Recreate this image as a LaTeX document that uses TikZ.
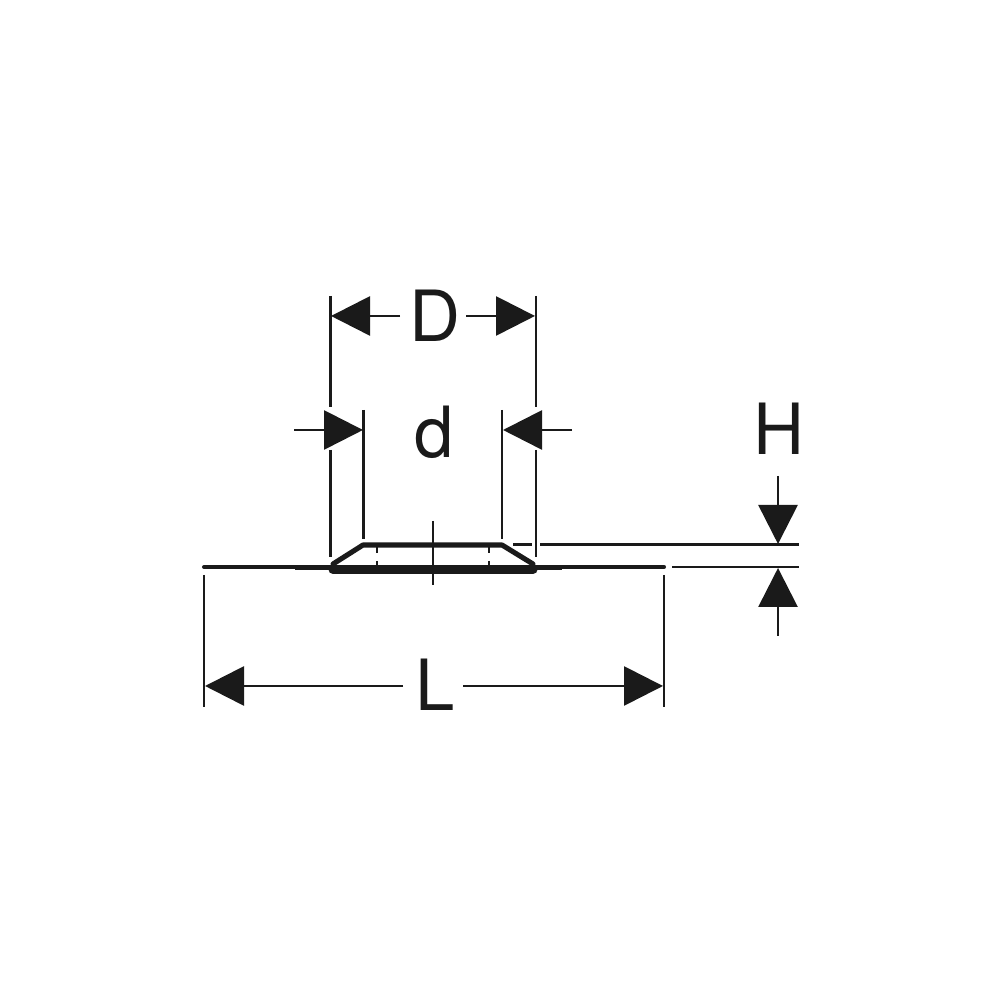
\documentclass[tikz,border=0pt]{standalone}
\usepackage{fontspec}
\setmainfont{TeX Gyre Heros}
\usepackage{tikz}
\usetikzlibrary{arrows.meta}
\definecolor{inkblack}{HTML}{1A1A1A}
\tikzset{
  dimline/.style={line width=0.78pt, color=inkblack, -{Triangle[length=3.9mm,width=3.9mm]}},
  extline/.style={line width=0.78pt, color=inkblack},
  partline/.style={color=inkblack, line cap=round, line join=round},
  dimlabel/.style={anchor=base, inner sep=0pt, text=inkblack, font=\fontsize{20.1pt}{24pt}\selectfont},
}

\begin{document}
\begin{tikzpicture}
      \useasboundingbox (0,0) rectangle (10,10);

      % plate and collar
      \draw[partline, line width=1.15pt] (2.04,4.33) -- (6.64,4.33);
      \draw[partline, line width=1.4pt, line cap=butt] (2.95,4.32) -- (5.62,4.32);
      \draw[partline, line width=1.45pt] (3.33,4.36) -- (3.63,4.55) -- (5.02,4.55) -- (5.33,4.36);
      \draw[partline, line width=2.6pt] (3.33,4.305) -- (5.33,4.305);

      % hidden edges and centre line
      \draw[extline] (3.77,4.53) -- (3.77,4.47);
      \draw[extline] (3.77,4.39) -- (3.77,4.35);
      \draw[extline] (4.89,4.53) -- (4.89,4.47);
      \draw[extline] (4.89,4.39) -- (4.89,4.35);
      \draw[extline] (4.33,4.79) -- (4.33,4.15);

      % extension lines
      \draw[extline] (3.305,7.04) -- (3.305,5.93);
      \draw[extline] (3.305,5.50) -- (3.305,4.43);
      \draw[extline] (5.36,7.04) -- (5.36,5.93);
      \draw[extline] (5.36,5.50) -- (5.36,4.43);
      \draw[extline] (3.635,5.90) -- (3.635,4.61);
      \draw[extline] (5.02,5.90) -- (5.02,4.61);
      \draw[extline] (2.04,4.25) -- (2.04,2.93);
      \draw[extline] (6.64,4.25) -- (6.64,2.93);
      \draw[extline] (5.13,4.555) -- (5.32,4.555);
      \draw[extline] (5.40,4.555) -- (7.99,4.555);
      \draw[extline] (6.72,4.33) -- (7.99,4.33);

      % dimensions
      \node[dimlabel] (labelD) at (4.35,6.58) {D};
      \draw[dimline] (4.00,6.84) -- (3.31,6.84);
      \draw[dimline] (4.66,6.84) -- (5.35,6.84);

      \node[dimlabel] (labeld) at (4.345,5.42) {d};
      \draw[dimline] (2.94,5.70) -- (3.63,5.70);
      \draw[dimline] (5.72,5.70) -- (5.03,5.70);

      \node[dimlabel] (labelH) at (7.785,5.45) {H};
      \draw[dimline] (7.78,5.24) -- (7.78,4.56);
      \draw[dimline] (7.78,3.64) -- (7.78,4.32);

      \node[dimlabel] (labelL) at (4.35,2.89) {L};
      \draw[dimline] (4.03,3.14) -- (2.05,3.14);
      \draw[dimline] (4.63,3.14) -- (6.63,3.14);
    \end{tikzpicture}
\end{document}
